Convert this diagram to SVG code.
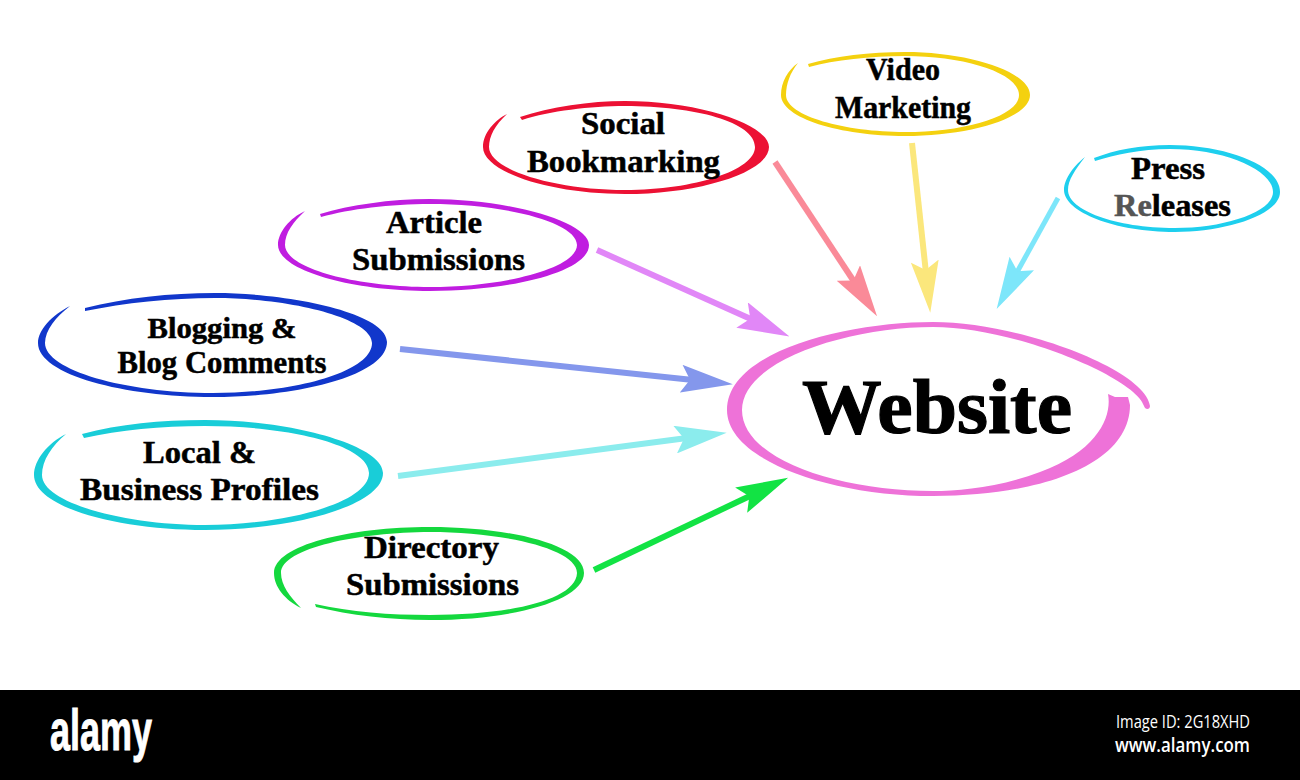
<svg xmlns="http://www.w3.org/2000/svg" width="1300" height="780" viewBox="0 0 1300 780">
<style>
.l{font-family:"Liberation Serif","Times New Roman",serif;font-weight:700;fill:#000;stroke:#000;stroke-width:.5px;text-anchor:middle;font-size:31px}
.c{fill:none;stroke-linecap:butt}
.f{font-family:"Open Sans","Liberation Sans",Arial,sans-serif;fill:#fff}
</style>
<defs>
<path id="h" d="M0,0 L52,14 L0,28 L9,14 Z"/>
<marker id="mr" markerUnits="userSpaceOnUse" markerWidth="52" markerHeight="28" refX="12" refY="14" orient="auto"><use href="#h" fill="#fa8a98"/></marker>
<marker id="my" markerUnits="userSpaceOnUse" markerWidth="52" markerHeight="28" refX="12" refY="14" orient="auto"><use href="#h" fill="#fbe77c"/></marker>
<marker id="mc" markerUnits="userSpaceOnUse" markerWidth="52" markerHeight="28" refX="12" refY="14" orient="auto"><use href="#h" fill="#7de6fa"/></marker>
<marker id="mp" markerUnits="userSpaceOnUse" markerWidth="52" markerHeight="28" refX="12" refY="14" orient="auto"><use href="#h" fill="#e187f7"/></marker>
<marker id="mb" markerUnits="userSpaceOnUse" markerWidth="52" markerHeight="28" refX="12" refY="14" orient="auto"><use href="#h" fill="#8497ec"/></marker>
<marker id="ml" markerUnits="userSpaceOnUse" markerWidth="52" markerHeight="28" refX="12" refY="14" orient="auto"><use href="#h" fill="#8beced"/></marker>
<marker id="mg" markerUnits="userSpaceOnUse" markerWidth="52" markerHeight="28" refX="12" refY="14" orient="auto"><use href="#h" fill="#12e344"/></marker>
</defs>
<rect width="1300" height="780" fill="#fff"/>
<g id="connectors" class="c" stroke-width="6">
<line x1="775" y1="162" x2="855" y2="283" stroke="#fa8a98" marker-end="url(#mr)"/>
<line x1="912" y1="143" x2="926" y2="273" stroke="#fbe77c" marker-end="url(#my)"/>
<line x1="1058" y1="198" x2="1016" y2="274" stroke="#7de6fa" stroke-width="5" marker-end="url(#mc)"/>
<line x1="597" y1="250" x2="753" y2="320" stroke="#e187f7" marker-end="url(#mp)"/>
<line x1="400" y1="349" x2="693" y2="380" stroke="#8497ec" marker-end="url(#mb)"/>
<line x1="398" y1="476" x2="687" y2="438" stroke="#8beced" marker-end="url(#ml)"/>
<line x1="594" y1="570" x2="752" y2="495" stroke="#12e344" marker-end="url(#mg)"/>
</g>
<g id="website">
<path fill="#ee72d8" d="M1150,406 C1150,410 1145,410 1144,406 C1136,378 1015,327 933,327 C850,327 742,360 742,410 C742,460 840,491 933,491 C960,491 1000,487 1040,472 C1100,450 1112,415 1108,394 L1115,397 L1128,397 L1130,405 C1130,465 1040,496 933,496 C830,496 727,460 727,410 C727,350 850,322 933,322 C1020,322 1146,370 1150,406 Z"/>
<text class="l" x="937" y="433" style="font-size:78px;stroke-width:1.2px" textLength="270" lengthAdjust="spacingAndGlyphs">Website</text>
</g>
<g id="blogging">
<path fill="#1137cb" d="M85,308 C125,298 170,293 215,293 C290,293 387,313 387,342 C387,375 300,397 213,397 C125,397 38,375 38,343 C38,330 52,315 70,306 C56,317 45,330 45,343 C45,370 125,393 213,393 C295,393 372,372 372,343 C372,318 290,298 215,298 C170,298 125,303 85,311 Z"/>
<text class="l" x="222" y="338" style="font-size:29px" textLength="149" lengthAdjust="spacingAndGlyphs">Blogging &amp;</text>
<text class="l" x="222" y="373" style="font-size:30.5px" textLength="209" lengthAdjust="spacingAndGlyphs">Blog Comments</text>
</g>
<g id="local">
<path fill="#19cdd8" d="M82,434 C120,424 160,420 205,420 C290,420 383,445 383,473 C383,505 295,530 205,530 C120,530 34,508 34,475 C34,460 48,443 66,434 C52,446 42,460 42,475 C42,503 125,525 205,525 C285,525 369,503 369,473 C369,445 290,426 205,426 C160,426 120,430 84,438 Z"/>
<text class="l" x="199.500" y="463" textLength="113" lengthAdjust="spacingAndGlyphs">Local &amp;</text>
<text class="l" x="199.500" y="500" style="font-size:32px" textLength="239" lengthAdjust="spacingAndGlyphs">Business Profiles</text>
</g>
<g id="directory">
<path fill="#14d83e" d="M315,604 C350,612 390,615 430,615 C510,615 576,600 577,573 C577,548 500,532 430,532 C360,532 281,548 281,573 C281,585 290,597 301,608 C285,600 274,587 274,573 C274,545 350,527 430,527 C510,527 584,545 584,573 C584,600 515,620 430,620 C390,620 350,615 316,607 Z"/>
<text class="l" x="431.500" y="558" textLength="135" lengthAdjust="spacingAndGlyphs">Directory</text>
<text class="l" x="432.500" y="595" textLength="173" lengthAdjust="spacingAndGlyphs">Submissions</text>
</g>
<g id="article">
<path fill="#c01de0" d="M320,214 C350,205 390,199 430,199 C510,199 589,222 589,245 C589,272 510,291 430,291 C350,291 278,270 278,245 C278,232 290,218 305,211 C293,222 285,233 285,245 C285,268 355,287 430,287 C505,287 577,268 577,245 C577,222 505,204 430,204 C390,204 350,209 321,217 Z"/>
<text class="l" x="434" y="233" textLength="96" lengthAdjust="spacingAndGlyphs">Article</text>
<text class="l" x="438.500" y="270" textLength="173" lengthAdjust="spacingAndGlyphs">Submissions</text>
</g>
<g id="social">
<path fill="#ec1134" d="M520,117 C550,107 590,101 625,101 C700,101 769,125 769,147 C769,172 700,194 625,194 C550,194 483,172 483,147 C483,133 495,120 507,114 C495,125 489,136 489,147 C489,170 555,190 625,190 C695,190 755,170 755,147 C755,122 695,106 625,106 C590,106 550,111 522,120 Z"/>
<text class="l" x="623" y="134" textLength="84" lengthAdjust="spacingAndGlyphs">Social</text>
<text class="l" x="623.500" y="172" textLength="193" lengthAdjust="spacingAndGlyphs">Bookmarking</text>
</g>
<g id="video">
<path fill="#f4d10f" d="M808,64 C835,56 870,52 905,52 C970,52 1030,72 1030,95 C1030,118 970,136 905,136 C840,136 781,118 781,95 C781,82 788,70 798,63 C790,73 786,84 786,95 C786,116 845,132 905,132 C965,132 1019,116 1019,95 C1019,73 965,56 905,56 C870,56 835,60 809,67 Z"/>
<text class="l" x="903" y="80" textLength="74" lengthAdjust="spacingAndGlyphs">Video</text>
<text class="l" x="903" y="118" textLength="136" lengthAdjust="spacingAndGlyphs">Marketing</text>
</g>
<g id="press">
<path fill="#1ecfee" d="M1094,158 C1115,150 1140,145 1170,145 C1225,145 1280,165 1280,192 C1280,215 1225,232 1175,232 C1115,232 1064,212 1064,190 C1064,178 1075,165 1085,157 C1075,170 1068,180 1068,190 C1068,210 1115,228 1175,228 C1225,228 1273,212 1273,192 C1273,170 1225,149 1170,149 C1140,149 1115,155 1095,161 Z"/>
<text class="l" x="1168" y="179" textLength="74" lengthAdjust="spacingAndGlyphs">Press</text>
<text class="l" x="1172.500" y="216" textLength="117" lengthAdjust="spacingAndGlyphs"><tspan fill="#555" stroke="#555">Re</tspan>leases</text>
</g>
<g id="footer">
<rect x="0" y="690" width="1300" height="90" fill="#000"/>
<text x="50" y="750" font-family="Liberation Sans,Arial,sans-serif" fill="#fff" stroke="#fff" stroke-width="1" font-size="58" font-weight="700" textLength="102" lengthAdjust="spacingAndGlyphs">alamy</text>
<text class="f" x="1116" y="728" font-size="18" textLength="134" lengthAdjust="spacingAndGlyphs">Image ID: 2G18XHD</text>
<text class="f" x="1115" y="752" font-size="19" font-weight="600" textLength="135" lengthAdjust="spacingAndGlyphs">www.alamy.com</text>
</g>
</svg>
